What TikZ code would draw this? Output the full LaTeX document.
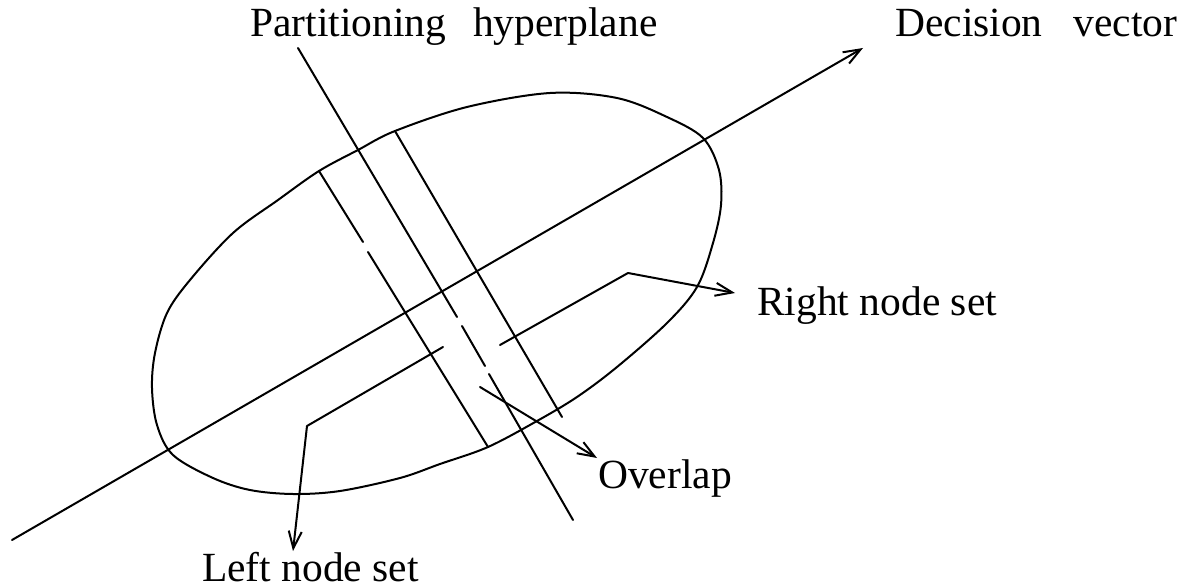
\documentclass[tikz,border=0pt]{standalone}
\usepackage{fontspec}
\setmainfont{Liberation Serif}
\usetikzlibrary{arrows.meta}
\tikzset{
  conn/.style={line width=2pt, line cap=round, line join=round},
  tipped/.style={-{Straight Barb[length=17pt,width=13pt]}},
  lbl/.style={anchor=base west, inner sep=0pt, font=\fontsize{41.5}{50}\selectfont},
}
\begin{document}
\begin{tikzpicture}[x=1pt,y=-1pt]
\useasboundingbox (0,0) rectangle (1189,588);

% labels
\node[lbl] (hyp) at (250,37) {Partitioning\hspace{27pt}hyperplane};
\node[lbl] (dec) at (895,37) {Decision\hspace{31pt}vector};
\node[lbl] (rns) at (757,315) {Right node set};
\node[lbl] (ovl) at (598,488) {Overlap};
\node[lbl] (lns) at (202,581) {Left node set};

% node set region (hand-drawn oval)
\draw[conn] plot[smooth cycle, tension=0.55] coordinates {
  (550,93) (617,98) (667,117) (703,138) (719,170) (721,205) (713,243)
  (697,287) (667,323) (617,367) (577,397) (537,421) (488,447) (440,464)
  (400,478) (340,491) (293,494) (250,490) (213,478) (173,455) (157,425)
  (152,388) (155,353) (167,313) (190,280) (233,233) (278,200) (319,171)
  (358,150) (395,131) (467,107)};

% decision vector
\coordinate (dvs) at (12,540);
\coordinate (dvt) at (863,48);
\draw[conn,tipped] (dvs) -- (dvt);

% partitioning hyperplane (with small breaks)
\coordinate (h0) at (298,48);
\coordinate (h1) at (457,317);
\coordinate (h2) at (462,326);
\coordinate (h3) at (485,366);
\coordinate (h4) at (489,374);
\coordinate (h5) at (573,520);
\draw[conn] (h0) -- (h1) (h2) -- (h3) (h4) -- (h5);

% left boundary of overlap
\coordinate (l0) at (319,171);
\coordinate (l1) at (363,242);
\coordinate (l2) at (368,252);
\coordinate (l3) at (488,447);
\draw[conn] (l0) -- (l1) (l2) -- (l3);

% right boundary of overlap
\coordinate (r0) at (395,131);
\coordinate (r1) at (562,417);
\draw[conn] (r0) -- (r1);

% leader: right node set
\coordinate (ra) at (500,345);
\coordinate (rc) at (628,273);
\coordinate (rt) at (735,293);
\draw[conn,tipped] (ra) -- (rc) -- (rt);

% leader: left node set
\coordinate (la) at (443,347);
\coordinate (lb) at (307,426);
\coordinate (lt) at (293,551);
\draw[conn,tipped] (la) -- (lb) -- (lt);

% leader: overlap
\coordinate (oa) at (480,387);
\coordinate (ot) at (597,458);
\draw[conn,tipped] (oa) -- (ot);
\end{tikzpicture}
\end{document}
